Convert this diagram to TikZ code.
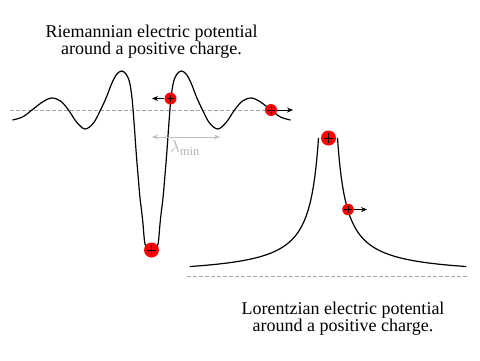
\documentclass[tikz,border=0pt]{standalone}
\usepackage{fontspec}
\setmainfont{Liberation Serif}
\usetikzlibrary{arrows.meta}
\tikzset{
  curve/.style={line width=1.2pt, black},
  zeroline/.style={gray!70, dashed, line width=0.7pt, dash pattern=on 4pt off 2pt},
  charge/.style={circle, fill=red, inner sep=0pt, minimum size={2*#1pt},
    path picture={
      \draw[line width=0.8pt] ([xshift={-0.65*#1pt}]path picture bounding box.center)
        -- ([xshift={0.65*#1pt}]path picture bounding box.center);
      \draw[line width=0.8pt] ([yshift={-0.65*#1pt}]path picture bounding box.center)
        -- ([yshift={0.65*#1pt}]path picture bounding box.center);}},
  push/.style={-{Stealth[length=6pt,width=5pt]}, line width=0.8pt},
  gauge/.style={{Stealth[length=6pt,width=5pt]}-{Stealth[length=6pt,width=5pt]}, gray!50, line width=0.9pt},
  caption/.style={align=center, font=\fontsize{18}{16.5}\selectfont, inner sep=0pt},
}
\begin{document}
\begin{tikzpicture}[x=1pt, y=-1pt]
  \useasboundingbox (0,0) rectangle (480,360);
  % captions
  \node[caption, anchor=north] (rtitle) at (151.5,25)
    {Riemannian electric potential\\around a positive charge.};
  \node[caption, anchor=north] (ltitle) at (343,302)
    {Lorentzian electric potential\\around a positive charge.};
  % zero levels
  \draw[zeroline] (10,110) -- (292,110);
  \draw[zeroline] (187,276) -- (468,276);
  % Riemannian potential
  \draw[curve] plot[smooth, tension=0.55] coordinates {
    (12.5,120) (22.5,117) (32,110) (42.5,102) (51.5,98) (60.5,101) (68.5,110)
    (76.5,122) (85,129) (93.5,123) (100.5,110) (106.5,97) (111.5,84)
    (116.5,74.5) (121.5,71) (126,74) (129.5,82) (132,98) (134,122) (136,150)
    (138,175) (140,198) (141.5,210) (143,224) (144,236) (145,244) (147.5,247.5)
    (151.5,249)
    (155.5,247.5) (158,244) (159,236) (160,224) (161.5,210) (163,198)
    (165,175) (167,150) (169,122) (171,98) (173.5,82) (177,74) (181.5,71)
    (186.5,74.5) (191.5,84) (196.5,97) (202.5,110) (209.5,123) (218,129)
    (226.5,122) (234.5,110) (242.5,101) (251.5,98) (260.5,102) (271,110)
    (280.5,117) (290.5,120)};
  % Lorentzian potential
  \draw[curve] plot[domain=2.25:4.93, samples=60] ({328-exp(\x)}, {276-1310/exp(\x)});
  \draw[curve] plot[domain=2.25:4.93, samples=60] ({328+exp(\x)}, {276-1310/exp(\x)});
  % wavelength
  \coordinate (l1) at (152,137);
  \coordinate (l2) at (220,137);
  \draw[gauge] (l1) -- (l2);
  \node[gray!60, font=\fontsize{18}{18}\selectfont] (lmin) at (185,148) {$\lambda_{\mathrm{min}}$};
  % charges
  \node[charge=6] (q1) at (170.5,98.5) {};
  \node[charge=6] (q2) at (271,110) {};
  \node[charge=7.5] (q3) at (151.5,250) {};
  \node[charge=7.5] (q4) at (328.5,138) {};
  \node[charge=5.8] (q5) at (348,209.5) {};
  \coordinate (p1) at (152,98.5);
  \coordinate (p2) at (293,110);
  \coordinate (p5) at (367,209.5);
  \draw[push] (q1) -- (p1);
  \draw[push] (q2) -- (p2);
  \draw[push] (q5) -- (p5);
\end{tikzpicture}
\end{document}
